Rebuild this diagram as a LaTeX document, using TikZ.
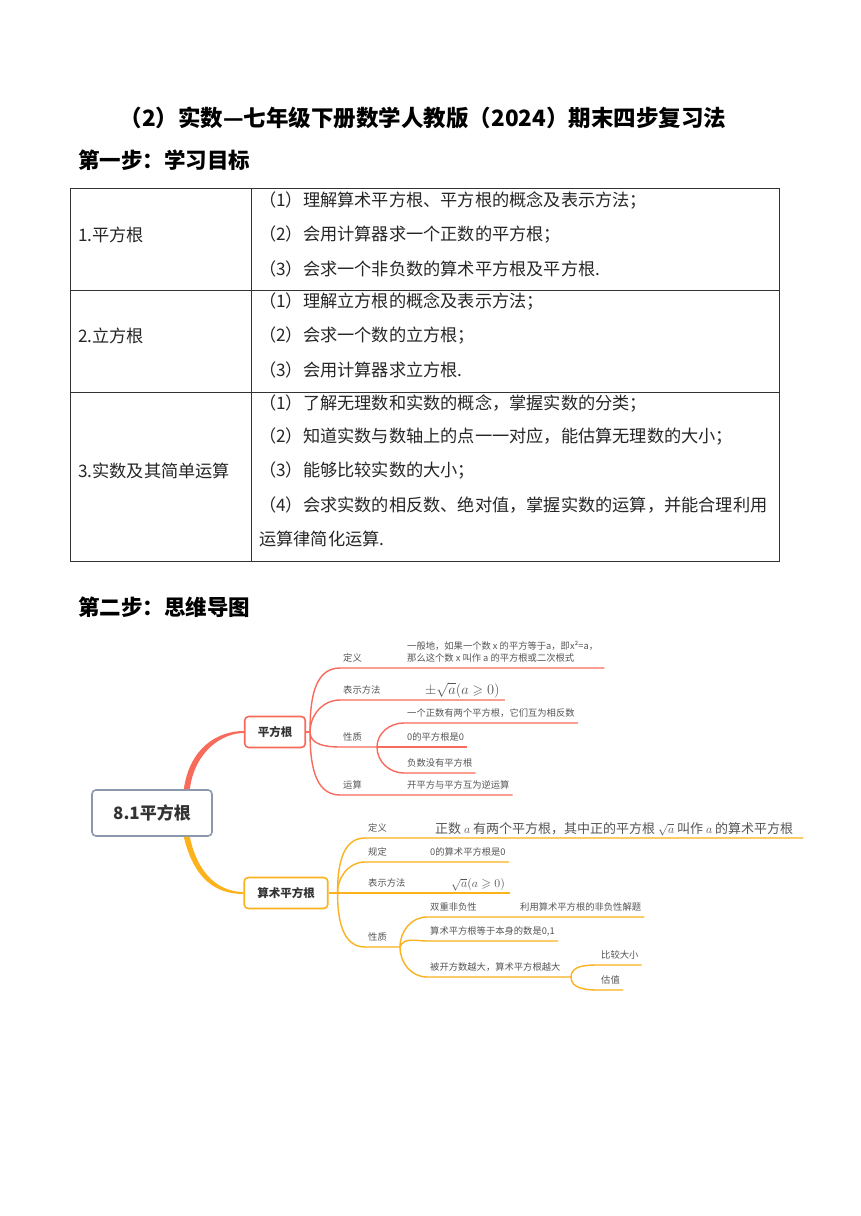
\documentclass[tikz,border=0pt]{standalone}
\usepackage{amsmath}
\usepackage{amssymb}
\usepackage{fontspec}
\setmainfont{Noto Sans CJK SC}
\usetikzlibrary{calc,positioning}

\definecolor{mmred}{HTML}{F86B5C}
\definecolor{mmyellow}{HTML}{FBB21D}
\definecolor{mmgray}{HTML}{8C98AA}
\definecolor{mmtext}{HTML}{555555}

\tikzset{
  heading/.style={anchor=west, inner sep=0pt, font=\fontsize{21.5}{25}\selectfont\bfseries},
  celltext/.style={anchor=west, inner sep=0pt, font=\fontsize{17.2}{20}\selectfont, text=black!85},
  rootbox/.style={draw=mmgray, line width=1.6pt, rounded corners=4pt, fill=white,
    minimum width=120pt, minimum height=46pt, font=\fontsize{17}{20}\selectfont\bfseries, text=black!80},
  topicbox/.style={draw=#1, line width=1.6pt, rounded corners=4pt, fill=white,
    minimum height=31pt, inner xsep=13pt, font=\fontsize{11.5}{14}\selectfont\bfseries, text=black!80},
  tag/.style={anchor=south west, inner xsep=3pt, inner ysep=4.5pt, text height=7.5pt, text depth=1.5pt,
    font=\fontsize{9.3}{12}\selectfont, text=mmtext},
  bigtag/.style={tag, inner ysep=3pt, text height=11pt, font=\fontsize{13}{16}\selectfont},
  mathtag/.style={anchor=south west, inner xsep=3pt, inner ysep=2pt, text=mmtext},
  redline/.style={draw=mmred, line width=1.4pt},
  yelline/.style={draw=mmyellow, line width=1.4pt},
}

\begin{document}
\begin{tikzpicture}[x=1pt,y=-1pt]
  \useasboundingbox[fill=white] (0,0) rectangle (860,1216);

  % headings
  \node[heading, anchor=center, font=\fontsize{22.5}{26}\selectfont\bfseries] (title) at (423,118) {（2）实数—七年级下册数学人教版（2024）期末四步复习法};
  \node[heading] (step1) at (78,160) {第一步：学习目标};
  \node[heading] (step2) at (78,607) {第二步：思维导图};

  % table of goals
  \draw[line width=0.8pt, black!80] (70,188) rectangle (779,561);
  \draw[line width=0.8pt, black!80] (251,188) -- (251,561);
  \draw[line width=0.8pt, black!80] (70,290) -- (779,290);
  \draw[line width=0.8pt, black!80] (70,392) -- (779,392);
  \node[celltext] (goal1) at (78,235) {1.平方根};
  \node[celltext] (goal2) at (78,336) {2.立方根};
  \node[celltext] (goal3) at (78,471) {3.实数及其简单运算};
  \foreach \y/\txt in {201/{（1）理解算术平方根、平方根的概念及表示方法；},
                       235/{（2）会用计算器求一个正数的平方根；},
                       269/{（3）会求一个非负数的算术平方根及平方根.},
                       302/{（1）理解立方根的概念及表示方法；},
                       336/{（2）会求一个数的立方根；},
                       370/{（3）会用计算器求立方根.},
                       404/{（1）了解无理数和实数的概念，掌握实数的分类；},
                       437/{（2）知道实数与数轴上的点一一对应，能估算无理数的大小；},
                       471/{（3）能够比较实数的大小；},
                       505/{（4）会求实数的相反数、绝对值，掌握实数的运算，并能合理利用},
                       539/{运算律简化运算.}}
    \node[celltext] at (259,\y) {\txt};

  % mind map
  \node[rootbox] (root) at (152,813) {8.1平方根};
  \node[topicbox=mmred] (sqr) at (275,732) {平方根};
  \node[topicbox=mmyellow] (asqr) at (286,893) {算术平方根};

  \fill[mmred] ($(root.north east)+(-29,0)$) .. controls +(6,-42) and +(-26,0) .. ($(sqr.west)+(0,-1)$)
    -- ($(sqr.west)+(0,1)$) .. controls +(-22,0) and +(5,-38) .. ($(root.north east)+(-23,0)$) -- cycle;
  \fill[mmyellow] ($(root.south east)+(-29,0)$) .. controls +(10,42) and +(-28,0) .. ($(asqr.west)+(0,1)$)
    -- ($(asqr.west)+(0,-1)$) .. controls +(-24,0) and +(8,38) .. ($(root.south east)+(-23,0)$) -- cycle;

  % children of 平方根
  \coordinate (rf) at ($(sqr.east)+(4,0)$);
  \draw[redline] (sqr.east) -- (rf);
  \node[tag] (rdef) at (340,668) {定义};
  \node[tag, align=left, inner xsep=6pt] (rdeftxt) at (401,668) {一般地，如果一个数 x 的平方等于a，即x²=a，\\那么这个数 x 叫作 a 的平方根或二次根式};
  \node[tag] (rnot) at (340,700) {表示方法};
  \node[mathtag, font=\fontsize{13.5}{16}\selectfont, inner xsep=5pt] (rnottxt) at (420,700) {$\pm\sqrt{a}(a\geqslant 0)$};
  \node[tag] (rqual) at (340,747) {性质};
  \coordinate (rq) at (377,747);
  \node[tag] (rq1) at (404,723) {一个正数有两个平方根，它们互为相反数};
  \node[tag] (rq2) at (404,747) {0的平方根是0};
  \node[tag] (rq3) at (404,773) {负数没有平方根};
  \node[tag] (rop) at (340,795) {运算};
  \node[tag] (roptxt) at (404,795) {开平方与平方互为逆运算};

  \draw[redline] (rf) to[out=90,in=180] (rdef.south west) -- (rdeftxt.south east);
  \draw[redline] (rf) to[out=90,in=180] (rnot.south west) -- (rnottxt.south east);
  \draw[redline] (rf) to[out=-90,in=180] (rqual.south west) -- (rq);
  \draw[redline] (rf) to[out=-90,in=180] (rop.south west) -- (roptxt.south east);
  \draw[redline] (rq) to[out=90,in=180] (rq1.south west) -- (rq1.south east);
  \draw[redline] (rq) -- (rq2.south east);
  \draw[redline] (rq) to[out=-90,in=180] (rq3.south west) -- (rq3.south east);

  % children of 算术平方根
  \coordinate (yf) at ($(asqr.east)+(9,0)$);
  \draw[yelline] (asqr.east) -- (yf);
  \node[tag] (ydef) at (365,838) {定义};
  \node[bigtag, inner xsep=10pt] (ydeftxt) at (425,838) {正数 $a$ 有两个平方根，其中正的平方根 $\sqrt{a}$ 叫作 $a$ 的算术平方根};
  \node[tag] (yrule) at (365,862) {规定};
  \node[tag] (yruletxt) at (427,862) {0的算术平方根是0};
  \node[tag] (ynot) at (365,893) {表示方法};
  \node[mathtag, font=\fontsize{12.5}{15}\selectfont, inner xsep=5pt] (ynottxt) at (446,893) {$\sqrt{a}(a\geqslant 0)$};
  \node[tag] (yqual) at (365,947) {性质};
  \coordinate (yq) at (400,947);
  \node[tag] (yq1) at (427,917) {双重非负性};
  \node[tag] (yq1b) at (517,917) {利用算术平方根的非负性解题};
  \node[tag] (yq2) at (427,941) {算术平方根等于本身的数是0,1};
  \node[tag] (yq3) at (427,977) {被开方数越大，算术平方根越大};
  \coordinate (yk) at (571,977);
  \node[tag] (yk1) at (598,965) {比较大小};
  \node[tag] (yk2) at (598,990) {估值};

  \draw[yelline] (yf) to[out=90,in=180] (ydef.south west) -- (ydeftxt.south east);
  \draw[yelline] (yf) to[out=90,in=180] (yrule.south west) -- (yruletxt.south east);
  \draw[yelline] (yf) -- (ynot.south west) -- (ynottxt.south east);
  \draw[yelline] (yf) to[out=-90,in=180] (yqual.south west) -- (yq);
  \draw[yelline] (yq) to[out=90,in=180] (yq1.south west) -- (yq1b.south east);
  \draw[yelline] (yq) to[out=70,in=180] (yq2.south west) -- (yq2.south east);
  \draw[yelline] (yq) to[out=-90,in=180] (yq3.south west) -- (yk);
  \draw[yelline] (yk) to[out=90,in=180] (yk1.south west) -- (yk1.south east);
  \draw[yelline] (yk) to[out=-90,in=180] (yk2.south west) -- (yk2.south east);
\end{tikzpicture}
\end{document}
